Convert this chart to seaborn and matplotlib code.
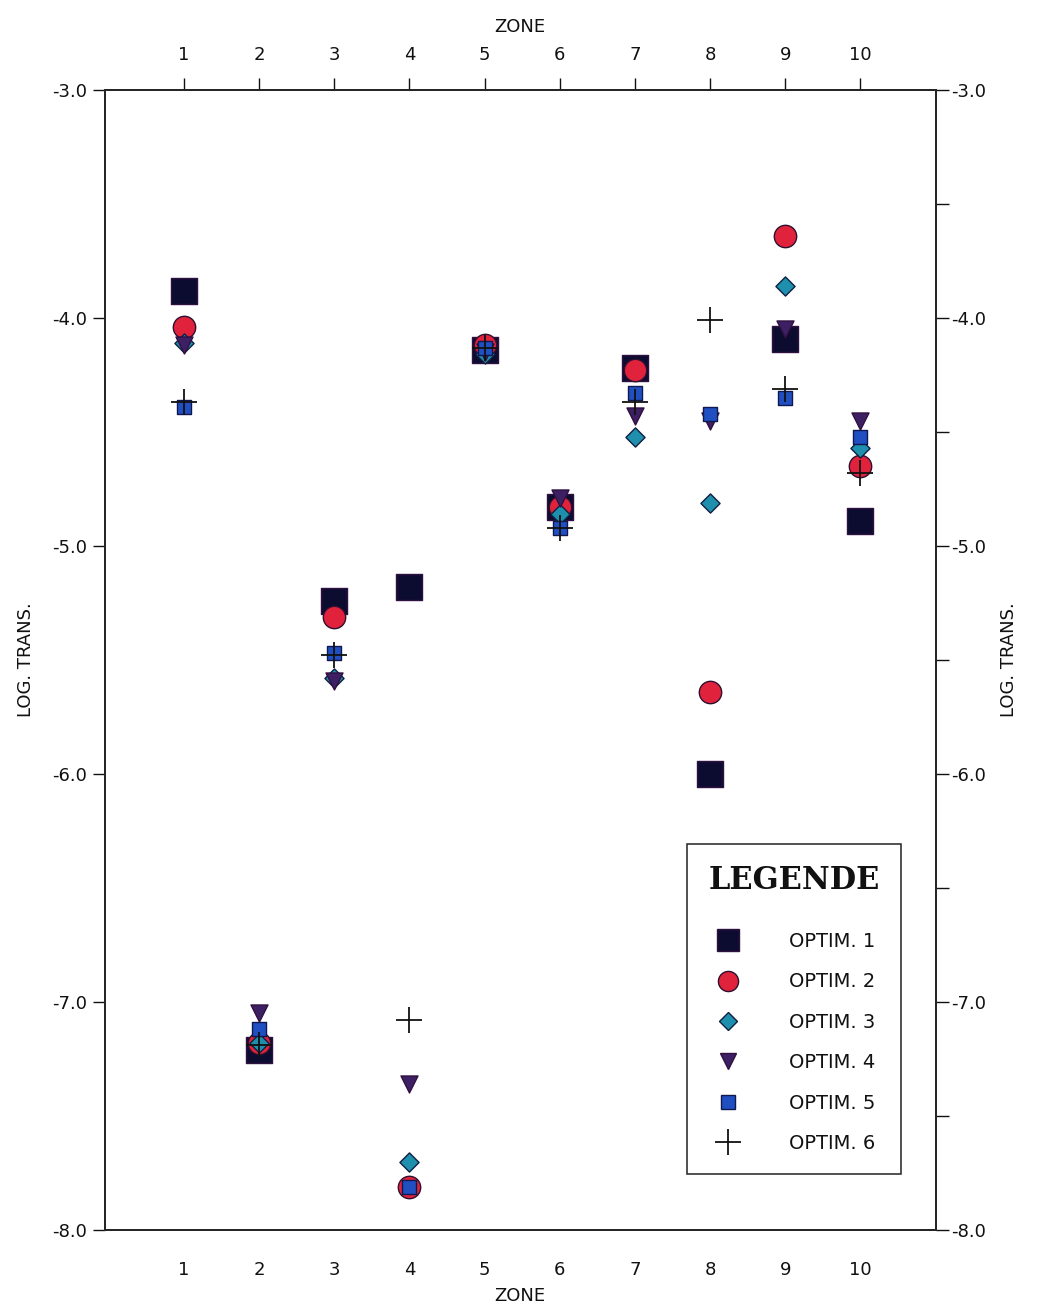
import numpy as np
import pandas as pd
import matplotlib
matplotlib.use("Agg")
import matplotlib.pyplot as plt
from matplotlib.lines import Line2D
import seaborn as sns

zones = [1, 2, 3, 4, 5, 6, 7, 8, 9, 10]
optim1 = [-3.88, -7.21, -5.24, -5.18, -4.14, -4.83, -4.22, -6.00, -4.09, -4.89]
optim2 = [-4.04, -7.18, -5.31, -7.81, -4.12, -4.83, -4.23, -5.64, -3.64, -4.65]
optim3 = [-4.11, -7.18, -5.58, -7.70, -4.16, -4.86, -4.52, -4.81, -3.86, -4.57]
optim4 = [-4.12, -7.05, -5.59, -7.36, -4.15, -4.79, -4.43, -4.45, -4.05, -4.45]
optim5 = [-4.39, -7.12, -5.47, -7.81, -4.13, -4.92, -4.33, -4.42, -4.35, -4.52]
optim6 = [-4.37, -7.19, -5.48, -7.08, -4.13, -4.92, -4.37, -4.01, -4.31, -4.68]
series_names = ["OPTIM. 1", "OPTIM. 2", "OPTIM. 3", "OPTIM. 4", "OPTIM. 5", "OPTIM. 6"]
yticks = [-3.0, -4.0, -5.0, -6.0, -7.0, -8.0]

sns.set_theme(style="white")
plt.rcParams['font.family'] = ['DejaVu Sans']
plt.rcParams['text.color'] = '#111111'
plt.rcParams['axes.labelcolor'] = '#111111'
plt.rcParams['xtick.color'] = '#111111'
plt.rcParams['ytick.color'] = '#111111'

df = pd.DataFrame({"zone": zones * 6,
                   "value": optim1 + optim2 + optim3 + optim4 + optim5 + optim6,
                   "series": sum([[n] * len(zones) for n in series_names], [])})

styles = {
    "OPTIM. 1": dict(marker="s", s=330, color="#0c0c30", edgecolor="#301040", linewidth=1.0),
    "OPTIM. 2": dict(marker="o", s=260, color="#e0223c", edgecolor="#301030", linewidth=1.0),
    "OPTIM. 3": dict(marker="D", s=95, color="#1f8fae", edgecolor="#102040", linewidth=1.0),
    "OPTIM. 4": dict(marker="v", s=150, color="#3d1f63", edgecolor="#301040", linewidth=1.0),
    "OPTIM. 5": dict(marker="s", s=110, color="#1f4fc0", edgecolor="#101850", linewidth=1.0),
    "OPTIM. 6": dict(marker="+", s=330, color="#111111", linewidth=1.3),
}

fig = plt.figure(figsize=(10.42, 13.14), dpi=100)
ax = fig.add_axes([0.1008, 0.0639, 0.797, 0.8676])

for name in series_names:
    sub = df[df["series"] == name]
    sns.scatterplot(data=sub, x="zone", y="value", ax=ax, zorder=3, legend=False, **styles[name])

ax.set_xlim(-0.05, 11.0)
ax.set_ylim(-8.0, -3.0)
ax.set_xticks(zones)
ax.set_xticklabels([str(z) for z in zones], fontsize=13)
ax.set_yticks(yticks)
ax.set_yticklabels([f"{v:.1f}" for v in yticks], fontsize=13)
ax.tick_params(axis="y", direction="out", length=9, width=1, pad=4, left=True)
ax.tick_params(axis="x", direction="out", length=0, pad=22, bottom=True)
ax.set_xlabel("ZONE", fontsize=13, labelpad=6)
ax.set_ylabel("LOG. TRANS.", fontsize=13, labelpad=12)
for sp in ax.spines.values():
    sp.set_color("#222222")
    sp.set_linewidth(1.1)

# top axis
axt = ax.twiny()
axt.set_xlim(ax.get_xlim())
axt.set_xticks(zones)
axt.set_xticklabels([str(z) for z in zones], fontsize=13)
axt.tick_params(axis="x", direction="out", length=9, width=1, pad=10)
axt.set_xlabel("ZONE", fontsize=13, labelpad=10)

# right axis
axr = ax.twinx()
axr.set_ylim(ax.get_ylim())
axr.set_yticks(yticks)
axr.set_yticklabels([f"{v:.1f}" for v in yticks], fontsize=13)
axr.set_yticks(np.arange(-7.5, -3.0, 1.0), minor=True)
axr.tick_params(axis="y", which="major", direction="out", length=9, width=1, pad=2)
axr.tick_params(axis="y", which="minor", direction="out", length=9, width=1, right=True)
axr.set_ylabel("LOG. TRANS.", fontsize=13, labelpad=10, rotation=90)
axr.grid(False); axt.grid(False); ax.grid(False)

handles = []
for name in series_names:
    st = styles[name]
    ms = np.sqrt(st["s"])
    if st["marker"] == "+":
        h = Line2D([], [], linestyle="none", marker="+", markersize=ms, color=st["color"],
                   markeredgewidth=st["linewidth"])
    else:
        h = Line2D([], [], linestyle="none", marker=st["marker"], markersize=ms * 0.9,
                   markerfacecolor=st["color"], markeredgecolor=st["edgecolor"],
                   markeredgewidth=1.0)
    handles.append(h)

leg = ax.legend(handles, series_names, loc="upper left", bbox_to_anchor=(0.701, 0.339),
                title="LEGENDE", fontsize=14, frameon=True, fancybox=False,
                labelspacing=1.1, handletextpad=2.4, borderpad=1.1, borderaxespad=0,
                handlelength=1.5)
leg.get_title().set_fontfamily("DejaVu Serif")
leg.get_title().set_fontweight("bold")
leg.get_title().set_fontsize(22)
leg._legend_box.sep = 26
frame = leg.get_frame()
frame.set_edgecolor("#222222")
frame.set_linewidth(1.1)
frame.set_facecolor("white")
frame.set_alpha(1)

fig.savefig("out.png", dpi=100, facecolor="white")
